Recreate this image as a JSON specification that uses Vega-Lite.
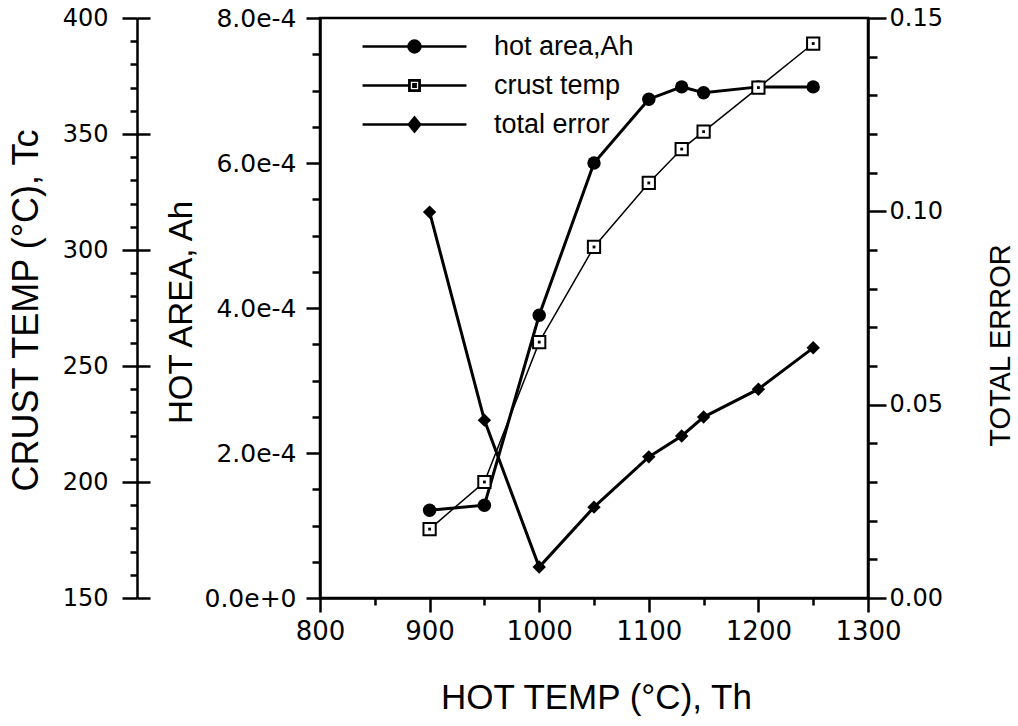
{
  "$schema": "https://vega.github.io/schema/vega-lite/v6.json",
  "width": 548,
  "height": 580,
  "autosize": "none",
  "padding": {"left": 320, "top": 18, "right": 150, "bottom": 128},
  "background": "white",
  "config": {
    "view": {"stroke": "black", "strokeWidth": 2.5},
    "axis": {
      "domainColor": "black", "domainWidth": 2.5, "tickColor": "black", "tickWidth": 2.5,
      "labelColor": "black", "labelFont": "DejaVu Sans", "labelFontSize": 24,
      "titleColor": "black", "titleFont": "Liberation Sans", "titleFontSize": 33, "titleFontWeight": "normal",
      "grid": false, "labelOverlap": false, "labelFlush": false
    }
  },
  "data": {
    "values": [
      {"Th": 900, "Ah": 0.000121, "Tc": 179.7, "err": 0.0998},
      {"Th": 950, "Ah": 0.000128, "Tc": 200, "err": 0.046},
      {"Th": 1000, "Ah": 0.00039, "Tc": 260.3, "err": 0.008},
      {"Th": 1050, "Ah": 0.0006, "Tc": 301.3, "err": 0.0235},
      {"Th": 1100, "Ah": 0.000688, "Tc": 328.9, "err": 0.0365},
      {"Th": 1130, "Ah": 0.000705, "Tc": 343.5, "err": 0.0419},
      {"Th": 1150, "Ah": 0.000697, "Tc": 351, "err": 0.0468},
      {"Th": 1200, "Ah": 0.000705, "Tc": 370, "err": 0.054},
      {"Th": 1250, "Ah": 0.000705, "Tc": 389, "err": 0.0647}
    ]
  },
  "encoding": {
    "x": {
      "field": "Th", "type": "quantitative",
      "scale": {"domain": [800, 1300], "nice": false, "zero": false},
      "axis": {
        "title": "HOT TEMP (°C), Th",
        "values": [800, 850, 900, 950, 1000, 1050, 1100, 1150, 1200, 1250, 1300],
        "labelExpr": "datum.value % 100 === 0 ? datum.label : ''",
        "format": "d",
        "tickSize": {"condition": {"test": "datum.value % 100 === 0", "value": 14}, "value": 7},
        "labelPadding": 6, "labelFontSize": 26,
        "titleX": 276, "titleY": 99, "titleBaseline": "middle", "titleAlign": "center", "titleFontSize": 35
      }
    }
  },
  "layer": [
    {
      "encoding": {
        "y": {
          "field": "Ah", "type": "quantitative",
          "scale": {"domain": [0, 0.0008], "nice": false, "zero": false},
          "axis": {
            "orient": "left", "title": "HOT AREA, Ah",
            "values": [0, 0.00005, 0.0001, 0.00015, 0.0002, 0.00025, 0.0003, 0.00035, 0.0004, 0.00045, 0.0005, 0.00055, 0.0006, 0.00065, 0.0007, 0.00075, 0.0008],
            "labelExpr": "round(datum.value * 100000) % 20 === 0 ? format(datum.value, '.1e') : ''",
            "tickSize": {"condition": {"test": "round(datum.value * 100000) % 20 === 0", "value": 14}, "value": 8},
            "labelPadding": 10, "labelFontSize": 25,
            "titleX": -139, "titleY": 294, "titleAngle": 270, "titleBaseline": "middle", "titleAlign": "center"
          }
        }
      },
      "layer": [
        {"mark": {"type": "line", "color": "black", "strokeWidth": 3}},
        {"mark": {"type": "point", "shape": "circle", "filled": true, "color": "black", "size": 180, "opacity": 1}},
        {
          "mark": {"type": "point", "filled": false, "fill": "black", "stroke": "black", "strokeWidth": 2.5, "opacity": 0},
          "encoding": {
            "shape": {
              "datum": "hot area,Ah",
              "scale": {
                "domain": ["hot area,Ah", "crust temp", "total error"],
                "range": [
                  "M-10,0H10M-1.15,0a1.15,1.15 0 1,0 2.3,0a1.15,1.15 0 1,0 -2.3,0Z",
                  "M-10,0H-1.0M1.0,0H10M-1.0,-1.0H1.0V1.0H-1.0ZM-0.95,-0.95V0.95H0.95V-0.95ZM-0.22,-0.22H0.22V0.22H-0.22Z",
                  "M-10,0H10M0,-1.35L1.1,0L0,1.35L-1.1,0Z"
                ]
              },
              "legend": {
                "orient": "none", "legendX": 81, "legendY": 15, "title": null, "padding": 0,
                "symbolSize": 108, "symbolOpacity": 1, "symbolStrokeWidth": 2.5,
                "labelFont": "Liberation Sans", "labelFontSize": 27, "labelColor": "black",
                "labelOffset": 66, "rowPadding": 11
              }
            }
          }
        }
      ]
    },
    {
      "encoding": {
        "y": {
          "field": "Tc", "type": "quantitative",
          "scale": {"domain": [150, 400], "nice": false, "zero": false},
          "axis": {
            "orient": "left", "offset": 183, "title": "CRUST TEMP (°C), Tc",
            "values": [150, 160, 170, 180, 190, 200, 210, 220, 230, 240, 250, 260, 270, 280, 290, 300, 310, 320, 330, 340, 350, 360, 370, 380, 390, 400],
            "labelExpr": "datum.value % 50 === 0 ? datum.label : ''",
            "tickSize": {"condition": {"test": "datum.value % 50 === 0", "value": 15}, "value": 7},
            "labelPadding": 14, "labelFontSize": 24,
            "titleX": -111, "titleY": 292, "titleAngle": 270, "titleBaseline": "middle", "titleAlign": "center", "titleFontSize": 36
          }
        }
      },
      "layer": [
        {"mark": {"type": "line", "color": "black", "strokeWidth": 1.5}},
        {
          "mark": {"type": "point", "shape": "square", "filled": true, "fill": "white", "stroke": "black", "strokeWidth": 2, "size": 150, "opacity": 1},
          "encoding": {
            "y": {
              "field": "Tc", "type": "quantitative",
              "axis": {
                "orient": "left", "offset": 183, "title": null, "labels": false, "domain": false,
                "values": [150, 200, 250, 300, 350, 400], "tickSize": -13
              }
            }
          }
        },
        {
          "mark": {"type": "point", "shape": "square", "filled": true, "color": "black", "size": 8, "opacity": 1},
          "encoding": {"y": {"field": "Tc", "type": "quantitative", "axis": null}}
        }
      ],
      "resolve": {"scale": {"y": "shared"}, "axis": {"y": "independent"}}
    },
    {
      "encoding": {
        "y": {
          "field": "err", "type": "quantitative",
          "scale": {"domain": [0, 0.15], "nice": false, "zero": false},
          "axis": {
            "orient": "right", "title": "TOTAL ERROR",
            "values": [0, 0.01, 0.02, 0.03, 0.04, 0.05, 0.06, 0.07, 0.08, 0.09, 0.1, 0.11, 0.12, 0.13, 0.14, 0.15],
            "labelExpr": "round(datum.value * 100) % 5 === 0 ? format(datum.value, '.2f') : ''",
            "tickSize": {"condition": {"test": "round(datum.value * 100) % 5 === 0", "value": 18}, "value": 9},
            "labelPadding": 3, "labelFontSize": 24,
            "titleFontSize": 29,
            "titleX": 132, "titleY": 327, "titleAngle": 270, "titleBaseline": "middle", "titleAlign": "center"
          }
        }
      },
      "layer": [
        {"mark": {"type": "line", "color": "black", "strokeWidth": 3}},
        {"mark": {"type": "point", "shape": "diamond", "filled": true, "color": "black", "size": 180, "opacity": 1}}
      ]
    }
  ],
  "resolve": {"scale": {"y": "independent"}}
}
